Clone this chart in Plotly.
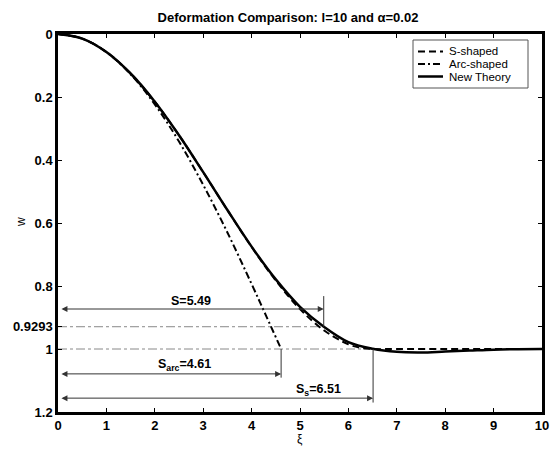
import plotly.graph_objects as go

# ---- data ----
xi_s = [0, 0.5, 1.0, 1.5, 2.0, 2.5, 3.0, 3.5, 4.0, 4.5, 5.0, 5.5, 6.0, 6.25, 6.51, 7.0, 8.0, 9.0, 10.0]
w_s = [0, 0.0145, 0.0571, 0.1254, 0.2150, 0.3214, 0.4386, 0.5589, 0.6760, 0.7827, 0.8734, 0.9413, 0.9851, 0.9960, 1.0, 1.0, 1.0, 1.0, 1.0]

xi_arc = [0, 0.5, 1.0, 1.5, 2.0, 2.5, 3.0, 3.5, 4.0, 4.3, 4.61]
w_arc = [0, 0.0145, 0.0575, 0.1278, 0.2234, 0.3413, 0.4790, 0.6300, 0.7936, 0.8946, 1.0]

xi_new = [0, 0.5, 1.0, 1.5, 2.0, 2.5, 3.0, 3.5, 4.0, 4.5, 5.0, 5.5, 6.0, 6.5, 7.0, 7.5, 8.0, 8.5, 9.0, 9.5, 10.0]
w_new = [0, 0.0145, 0.0571, 0.1254, 0.2150, 0.3214, 0.4386, 0.5589, 0.6750, 0.7790, 0.8660, 0.9300, 0.9780, 0.9990, 1.0090, 1.0110, 1.0080, 1.0050, 1.0020, 1.0005, 1.0]

y_ticks = [0, 0.2, 0.4, 0.6, 0.8, 0.9293, 1.0, 1.2]
y_tick_labels = ["0", "0.2", "0.4", "0.6", "0.8", "0.9293", "1", "1.2"]
x_ticks = [0, 1, 2, 3, 4, 5, 6, 7, 8, 9, 10]

series_names = ["S-shaped", "Arc-shaped", "New Theory"]

S_new = 5.49
S_arc = 4.61
S_s = 6.51
w_mark = 0.9293

FONT = "Liberation Sans, Arial, sans-serif"

# plot-area pixel geometry (for paper-coordinate placement)
L, R, T, B = 58, 542, 34, 412
W_PX, H_PX = R - L, B - T


def px(xp):
    return (xp - L) / W_PX


def py(yp):
    return (B - yp) / H_PX


styles = [
    dict(color="black", width=2, dash="7px,4px"),
    dict(color="black", width=2, dash="7px,3px,2px,3px"),
    dict(color="black", width=2.5),
]

fig = go.Figure()
for xs, ys, nm, st in zip([xi_s, xi_arc, xi_new], [w_s, w_arc, w_new], series_names, styles):
    fig.add_trace(go.Scatter(x=xs, y=ys, mode="lines", name=nm,
                             line=dict(shape="spline", **st), showlegend=False))

# reference dash-dot horizontal lines
fig.add_shape(type="line", x0=0, x1=S_new, y0=w_mark, y1=w_mark, xref="x", yref="y",
              line=dict(color="#888888", width=1, dash="dashdot"), layer="below")
fig.add_shape(type="line", x0=0, x1=S_s, y0=1.0, y1=1.0, xref="x", yref="y",
              line=dict(color="#888888", width=1, dash="dashdot"), layer="below")

# vertical marker lines
fig.add_shape(type="line", x0=S_new, x1=S_new, y0=0.832, y1=w_mark, xref="x", yref="y",
              line=dict(color="#333333", width=1))
fig.add_shape(type="line", x0=S_arc, x1=S_arc, y0=1.0, y1=1.091, xref="x", yref="y",
              line=dict(color="#333333", width=1))
fig.add_shape(type="line", x0=S_s, x1=S_s, y0=1.0, y1=1.17, xref="x", yref="y",
              line=dict(color="#333333", width=1))

# double-headed arrows
arrow_specs = [(S_new, 0.873), (S_arc, 1.079), (S_s, 1.156)]
for xe, ya in arrow_specs:
    fig.add_annotation(x=xe, y=ya, ax=0.04, ay=ya, xref="x", yref="y", axref="x", ayref="y",
                       text="", showarrow=True, arrowhead=2, startarrowhead=2,
                       arrowside="end+start", arrowsize=1.2, startarrowsize=1.2,
                       arrowwidth=1, arrowcolor="#333333")

lab_font = dict(family=FONT, size=12.5, color="black", weight="bold")
fig.add_annotation(x=2.74, y=0.847, xref="x", yref="y", text="S=5.49", showarrow=False, font=lab_font)
fig.add_annotation(x=2.61, y=1.051, xref="x", yref="y", text="S<sub>arc</sub>=4.61", showarrow=False, font=lab_font)
fig.add_annotation(x=5.38, y=1.13, xref="x", yref="y", text="S<sub>s</sub>=6.51", showarrow=False, font=lab_font)

# axis titles (placed as annotations to match the reference positions)
fig.add_annotation(x=px(300), y=py(439), xref="paper", yref="paper", text="ξ", showarrow=False,
                   xanchor="center", yanchor="middle", font=dict(family=FONT, size=12, color="black"))
fig.add_annotation(x=px(21), y=py(222), xref="paper", yref="paper", text="w", textangle=-90,
                   xanchor="center", yanchor="middle", showarrow=False,
                   font=dict(family=FONT, size=12, color="black"))

# legend drawn as a boxed key
fig.add_shape(type="rect", xref="paper", yref="paper", x0=px(413), x1=px(528), y0=py(88), y1=py(40),
              line=dict(color="#555555", width=1), fillcolor="white")
rows_y = [51.5, 64.0, 76.5]
for nm, st, ry in zip(series_names, styles, rows_y):
    fig.add_shape(type="line", xref="paper", yref="paper", x0=px(418), x1=px(443),
                  y0=py(ry), y1=py(ry), line=st)
    fig.add_annotation(x=px(448), y=py(ry), xref="paper", yref="paper", text=nm, showarrow=False,
                       xanchor="left", yanchor="middle", borderpad=0,
                       font=dict(family=FONT, size=11.5, color="black"))

fig.update_layout(
    width=555, height=449,
    margin=dict(l=L, r=555 - R, t=T, b=449 - B, autoexpand=False),
    paper_bgcolor="white", plot_bgcolor="white",
    showlegend=False,
    title=dict(text="<b>Deformation Comparison: l=10 and α=0.02</b>", x=288 / 555, xanchor="center",
               y=1 - 17 / 449, yanchor="middle", font=dict(family=FONT, size=13, color="black")),
    xaxis=dict(range=[0, 10], tickvals=x_ticks, ticks="inside", ticklen=4, tickcolor="black",
               showline=True, linecolor="black", linewidth=2.5, mirror="ticks",
               showgrid=False, zeroline=False, automargin=False,
               tickfont=dict(family=FONT, size=13, color="black", weight="bold")),
    yaxis=dict(range=[1.2, 0], tickvals=y_ticks, ticktext=y_tick_labels, ticks="inside", ticklen=4,
               tickcolor="black", showline=True, linecolor="black", linewidth=2.5, mirror="ticks",
               showgrid=False, zeroline=False, automargin=False,
               tickfont=dict(family=FONT, size=13, color="black", weight="bold")),
)

fig.write_html("out.html")
